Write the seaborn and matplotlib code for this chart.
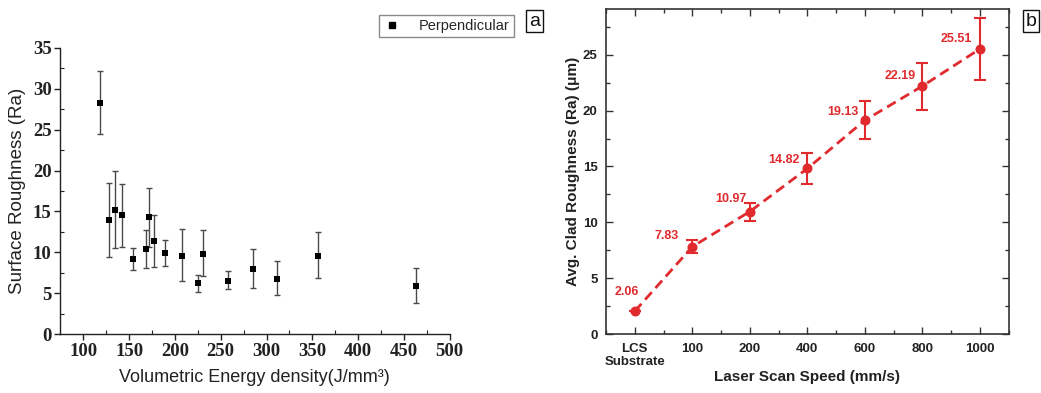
import numpy as np
import pandas as pd
import matplotlib
matplotlib.use("Agg")
import matplotlib.pyplot as plt
import seaborn as sns
from matplotlib.ticker import MultipleLocator, FixedLocator
from matplotlib.lines import Line2D

# ---------------- data: panel a ----------------
energy_density = [118.2, 128.4, 134.9, 142.2, 154.3, 168.1, 171.4, 177.5, 189.2,
                  207.4, 224.9, 231.0, 258.0, 284.9, 311.1, 356.2, 462.9]
roughness_a = [28.2, 13.9, 15.2, 14.6, 9.2, 10.4, 14.3, 11.4, 9.9,
               9.6, 6.3, 9.8, 6.55, 8.0, 6.8, 9.6, 5.9]
err_upper_a = [32.1, 18.5, 19.9, 18.4, 10.5, 12.7, 17.9, 14.6, 11.5,
               12.9, 7.3, 12.7, 7.7, 10.4, 8.9, 12.5, 8.1]
err_lower_a = [24.4, 9.4, 10.6, 10.7, 7.9, 8.1, 10.7, 8.2, 8.3,
               6.5, 5.2, 7.1, 5.5, 5.6, 4.8, 6.9, 3.8]
series_a = "Perpendicular"

# ---------------- data: panel b ----------------
speed_labels = ["LCS\nSubstrate", "100", "200", "400", "600", "800", "1000"]
roughness_b = [2.06, 7.83, 10.97, 14.82, 19.13, 22.19, 25.51]
err_b = [0.0, 0.6, 0.8, 1.4, 1.7, 2.1, 2.8]
value_labels_b = ["2.06", "7.83", "10.97", "14.82", "19.13", "22.19", "25.51"]

sns.set_theme(style="white")
plt.rcParams["font.family"] = ["Liberation Sans", "DejaVu Sans"]

W, H = 1041, 393
fig = plt.figure(figsize=(W / 100, H / 100), dpi=100)

def fig_rect(x0, y0, x1, y1):
    return [x0 / W, 1 - y1 / H, (x1 - x0) / W, (y1 - y0) / H]

# ================= panel a =================
axa = fig.add_axes(fig_rect(60, 47.7, 449.7, 334.3))
dfa = pd.DataFrame({"x": energy_density, "y": roughness_a})
ya = np.array(roughness_a)
yerr_a = [ya - np.array(err_lower_a), np.array(err_upper_a) - ya]
axa.errorbar(energy_density, roughness_a, yerr=yerr_a, fmt="none",
             ecolor="#4a4a4a", elinewidth=1.0, capsize=2.5, capthick=1.0, zorder=2)
sns.scatterplot(data=dfa, x="x", y="y", marker="s", s=16, color="black",
                edgecolor="black", linewidth=0, ax=axa, zorder=3, legend=False)
axa.set_xlim(74.5, 500)
axa.set_ylim(0, 35)
axa.xaxis.set_major_locator(FixedLocator([100, 150, 200, 250, 300, 350, 400, 450, 500]))
axa.xaxis.set_minor_locator(MultipleLocator(25))
axa.yaxis.set_major_locator(MultipleLocator(5))
axa.yaxis.set_minor_locator(MultipleLocator(2.5))
for s in ["top", "right"]:
    axa.spines[s].set_visible(False)
for s in ["left", "bottom"]:
    axa.spines[s].set_color("#222222")
    axa.spines[s].set_linewidth(1.0)
axa.tick_params(which="major", direction="out", length=4, width=1.0, color="#222222",
                left=True, bottom=True, pad=2)
axa.tick_params(which="minor", direction="in", length=3, width=0.8, color="#222222",
                left=True, bottom=True)
for lab in axa.get_xticklabels() + axa.get_yticklabels():
    lab.set_family(["Liberation Serif", "DejaVu Serif"])
    lab.set_fontweight("bold")
    lab.set_fontsize(13.5)
    lab.set_color("#222222")
axa.set_xlabel("Volumetric Energy density(J/mm\u00b3)", fontsize=13, color="#222222",
               labelpad=7)
axa.set_ylabel("Surface Roughness (Ra)", fontsize=13.5, color="#222222", labelpad=5)
axa.grid(False)

# legend for panel a
h = Line2D([], [], marker="s", color="black", linestyle="none", markersize=5)
leg = fig.legend([h], [series_a], loc="center", bbox_to_anchor=(446.5 / W, 1 - 26 / H),
                 fontsize=10.5, frameon=True, fancybox=False, edgecolor="#8a8a8a",
                 framealpha=1, handletextpad=1.2, borderpad=0.3, handlelength=1.2,
                 borderaxespad=0)
leg.get_frame().set_linewidth(1.0)

# ================= panel b =================
red = "#e12a2e"
axb = fig.add_axes(fig_rect(606, 9.3, 1008.7, 334.3))
xpos = np.arange(len(speed_labels))
dfb = pd.DataFrame({"x": xpos, "y": roughness_b})
sns.lineplot(data=dfb, x="x", y="y", color=red, linewidth=2.0, ax=axb,
             dashes=False, zorder=2)
axb.lines[-1].set_dashes([3.6, 2.0])
axb.errorbar(xpos, roughness_b, yerr=err_b, fmt="none", ecolor=red,
             elinewidth=1.5, capsize=4, capthick=1.5, zorder=3)
sns.scatterplot(data=dfb, x="x", y="y", color=red, s=52, edgecolor=red,
                linewidth=0, ax=axb, zorder=4)
label_offsets = [(3, 13.9), (-9.4, 7.7), (-2.4, 9.4), (-5.3, 5.8), (-4.8, 5.8),
                 (-4.6, 7.0), (-5.5, 7.0)]
for xi, yi, txt, off in zip(xpos, roughness_b, value_labels_b, label_offsets):
    axb.annotate(txt, (xi, yi), xytext=off, textcoords="offset points",
                 ha="right", va="center", color=red, fontsize=9, fontweight="bold")
axb.set_xlim(-0.5, 6.5)
axb.set_ylim(0, 29.05)
axb.set_xticks(xpos)
axb.set_xticklabels(speed_labels)
axb.xaxis.set_minor_locator(MultipleLocator(0.5))
axb.yaxis.set_major_locator(MultipleLocator(5))
axb.yaxis.set_minor_locator(MultipleLocator(2.5))
for s in axb.spines.values():
    s.set_color("#333333")
    s.set_linewidth(1.2)
axb.tick_params(which="both", direction="in", top=True, right=True, left=True,
                bottom=True, color="#333333", width=1.0)
axb.tick_params(which="major", length=5, pad=6)
axb.tick_params(which="minor", length=3)
for lab in axb.get_xticklabels() + axb.get_yticklabels():
    lab.set_fontweight("bold")
    lab.set_fontsize(9.5)
    lab.set_color("#222222")
axb.set_xlabel("Laser Scan Speed (mm/s)", fontsize=11, fontweight="bold",
               color="#222222", labelpad=1)
axb.set_ylabel("Avg. Clad Roughness (Ra) (\u03bcm)", fontsize=11, fontweight="bold",
               color="#222222", labelpad=2)
axb.grid(False)

# panel letters
fig.text(534.5 / W, 1 - 21 / H, "a", ha="center", va="center", fontsize=14,
         color="#111111",
         bbox=dict(boxstyle="square,pad=0.15", fc="white", ec="#111111", lw=1.0))
fig.text(1031 / W, 1 - 21 / H, "b", ha="center", va="center", fontsize=14,
         color="#111111",
         bbox=dict(boxstyle="square,pad=0.15", fc="white", ec="#111111", lw=1.0))

fig.savefig("out.png", dpi=100, facecolor="white")
